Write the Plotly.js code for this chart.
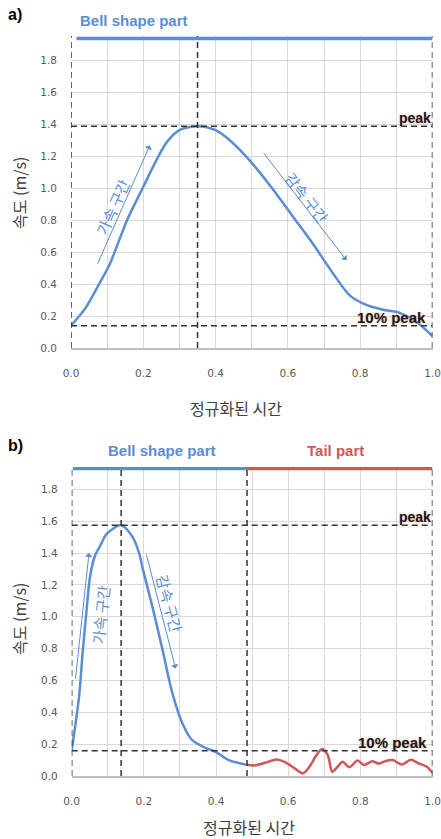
<!DOCTYPE html>
<html>
<head>
<meta charset="utf-8">
<script src="https://cdn.plot.ly/plotly-3.0.1.min.js"></script>
<style>html,body{margin:0;padding:0;background:#fff;}#chart{width:441px;height:839px;}</style>
</head>
<body>
<div id="chart"></div>
<script>
// ---- data (a) ----
const xA = [0, 0.04, 0.08, 0.108, 0.155, 0.2, 0.237, 0.265, 0.30, 0.35, 0.40, 0.44, 0.5, 0.56, 0.615, 0.67, 0.724, 0.771, 0.817, 0.863, 0.909, 0.955, 1.0];
const yA = [0.14, 0.25, 0.41, 0.53, 0.80, 1.01, 1.18, 1.29, 1.365, 1.39, 1.365, 1.30, 1.16, 0.99, 0.82, 0.65, 0.47, 0.33, 0.27, 0.24, 0.22, 0.165, 0.075];
const peakA = [0.35, 1.39];      // [x, y]
const tenA = 0.139;
// ---- data (b) ----
const xB = [0, 0.02, 0.031, 0.042, 0.05, 0.064, 0.08, 0.097, 0.137, 0.169, 0.188, 0.196, 0.224, 0.252, 0.279, 0.307, 0.334, 0.372, 0.40, 0.435, 0.486];
const yB = [0.16, 0.49, 0.79, 1.06, 1.24, 1.38, 1.45, 1.52, 1.575, 1.5, 1.39, 1.31, 1.06, 0.79, 0.52, 0.33, 0.225, 0.175, 0.15, 0.10, 0.07];
const xT = [0.486, 0.508, 0.536, 0.568, 0.595, 0.618, 0.641, 0.659, 0.678, 0.694, 0.71, 0.722, 0.737, 0.751, 0.770, 0.792, 0.81, 0.833, 0.852, 0.87, 0.89, 0.915, 0.94, 0.962, 0.984, 1.0];
const yT = [0.07, 0.067, 0.083, 0.104, 0.083, 0.048, 0.017, 0.058, 0.13, 0.169, 0.13, 0.027, 0.058, 0.09, 0.055, 0.098, 0.069, 0.092, 0.078, 0.094, 0.1, 0.072, 0.102, 0.079, 0.058, 0.02];
const peakB = [0.137, 1.575];
const tenB = 0.158;
const tailStart = 0.486;
// arrows [tailX, tailY, headX, headY]
const accA = [0.072, 0.52, 0.218, 1.27];
const decA = [0.53, 1.23, 0.762, 0.55];
const accB = [0.01, 0.60, 0.048, 1.40];
const decB = [0.206, 1.40, 0.288, 0.675];
const xTicks = [0, 0.2, 0.4, 0.6, 0.8, 1.0];
const yTicks = [0, 0.2, 0.4, 0.6, 0.8, 1.0, 1.2, 1.4, 1.6, 1.8];

const BLUE = '#5b8dd3', RED = '#d05757', DASH = '#333333', GRID = '#d9d9d9';
const W = 441, H = 839;
const px = v => v / W, py = v => 1 - v / H;

const traces = [
  {x: xA, y: yA, xaxis: 'x', yaxis: 'y', mode: 'lines', line: {color: BLUE, width: 2.5, shape: 'spline', smoothing: 0.8}, hoverinfo: 'skip'},
  {x: xB, y: yB, xaxis: 'x2', yaxis: 'y2', mode: 'lines', line: {color: BLUE, width: 2.5, shape: 'spline', smoothing: 0.8}, hoverinfo: 'skip'},
  {x: xT, y: yT, xaxis: 'x2', yaxis: 'y2', mode: 'lines', line: {color: RED, width: 2.5, shape: 'spline', smoothing: 0.8}, hoverinfo: 'skip'}
];

const dashLine = {color: DASH, width: 1.5, dash: '6px,4px'};
function vline(xr, yr, x, ytop) { return {type: 'line', xref: xr, yref: yr, x0: x, x1: x, y0: 0, y1: ytop, line: dashLine, layer: 'above'}; }
function hline(xr, yr, y) { return {type: 'line', xref: xr, yref: yr, x0: 0, x1: 1, y0: y, y1: y, line: dashLine, layer: 'above'}; }

const topA = 1.955, topB = 1.94;
const shapes = [
  vline('x', 'y', 0, topA), vline('x', 'y', peakA[0], topA), vline('x', 'y', 1, topA),
  hline('x', 'y', peakA[1]), hline('x', 'y', tenA),
  {type: 'line', xref: 'x', yref: 'y', x0: 0.015, x1: 1, y0: 1.94, y1: 1.94, line: {color: BLUE, width: 3.5}},
  vline('x2', 'y2', 0, topB), vline('x2', 'y2', peakB[0], topB), vline('x2', 'y2', tailStart, topB), vline('x2', 'y2', 1, topB),
  hline('x2', 'y2', peakB[1]), hline('x2', 'y2', tenB),
  {type: 'line', xref: 'x2', yref: 'y2', x0: 0.003, x1: tailStart, y0: 1.93, y1: 1.93, line: {color: BLUE, width: 3.5}},
  {type: 'line', xref: 'x2', yref: 'y2', x0: tailStart, x1: 1, y0: 1.93, y1: 1.93, line: {color: RED, width: 3.5}}
];

const boldFont = (size, color) => ({family: 'Liberation Sans, Arial, sans-serif', size: size, color: color, weight: 'bold'});
const krFont = (size, color) => ({family: 'Noto Sans CJK KR, sans-serif', size: size, color: color});
const glow = (size) => ({family: 'Liberation Sans, Arial, sans-serif', size: size, color: '#141436', weight: 'bold', shadow: '0px 0px 2px #f0b040'});

function arrow(xr, yr, a) {
  return {xref: xr, yref: yr, axref: xr, ayref: yr, x: a[2], y: a[3], ax: a[0], ay: a[1], text: '', showarrow: true, arrowhead: 1, arrowsize: 1.3, arrowwidth: 1, arrowcolor: BLUE};
}
function pt(text, x, y, font, opts) {
  return Object.assign({xref: 'paper', yref: 'paper', x: px(x), y: py(y), text: text, showarrow: false, font: font, xanchor: 'center', yanchor: 'middle'}, opts || {});
}

const annotations = [
  pt('a)', 15, 15, boldFont(16, '#000')),
  pt('b)', 15, 445, boldFont(16, '#000')),
  pt('Bell shape part', 134, 21, boldFont(15, BLUE)),
  pt('Bell shape part', 162, 450, boldFont(15, BLUE)),
  pt('Tail part', 335, 450, boldFont(15, RED)),
  pt('peak', 433, 118, glow(14), {xanchor: 'right'}),
  pt('10% peak', 428, 317, glow(15), {xanchor: 'right'}),
  pt('peak', 433, 517, glow(14), {xanchor: 'right'}),
  pt('10% peak', 429, 742, glow(15), {xanchor: 'right'}),
  pt('속도 (m/s)', 19, 193, krFont(16, '#404040'), {textangle: -90}),
  pt('속도 (m/s)', 19, 619, krFont(16, '#404040'), {textangle: -90}),
  pt('정규화된 시간', 236, 408, krFont(16, '#404040')),
  pt('정규화된 시간', 249, 827, krFont(16, '#404040')),
  arrow('x', 'y', accA), arrow('x', 'y', decA), arrow('x2', 'y2', accB), arrow('x2', 'y2', decB),
  pt('가속 구간', 112, 207, krFont(15, BLUE), {textangle: -66}),
  pt('감속 구간', 307, 197, krFont(15, BLUE), {textangle: 52}),
  pt('가속 구간', 100, 615, krFont(15, BLUE), {textangle: -84}),
  pt('감속 구간', 170, 603, krFont(15, BLUE), {textangle: 75})
];

const tickFont = {family: 'DejaVu Sans, sans-serif', size: 10.5, color: '#595959'};
function xax(domain, anchor) {
  return {domain: domain, anchor: anchor, range: [0, 1], tickvals: xTicks, ticktext: xTicks.map(v => v.toFixed(1)),
    showgrid: true, gridcolor: GRID, gridwidth: 1, zeroline: false, showline: true, linecolor: '#bfbfbf', linewidth: 1.5,
    minor: {dtick: 0.1, tick0: 0, showgrid: true, gridcolor: GRID, gridwidth: 1}, tickfont: tickFont, ticks: '',
    ticklabelstandoff: 15, ticklabeloverflow: 'allow', fixedrange: true};
}
function yax(domain, anchor, top) {
  return {domain: domain, anchor: anchor, range: [0, top], tickvals: yTicks, ticktext: yTicks.map(v => v.toFixed(1)),
    showgrid: true, gridcolor: GRID, gridwidth: 1, zeroline: false, showline: false, tickfont: tickFont, ticks: '',
    ticklabelstandoff: 13, ticklabeloverflow: 'allow', fixedrange: true};
}

const layout = {
  width: W, height: H, margin: {l: 0, r: 0, t: 0, b: 0}, showlegend: false,
  paper_bgcolor: '#fff', plot_bgcolor: '#fff',
  xaxis: xax([71 / W, 432.5 / W], 'y'),
  yaxis: yax([1 - 348 / H, 1 - 36 / H], 'x', topA),
  xaxis2: xax([71.7 / W, 432.5 / W], 'y2'),
  yaxis2: yax([1 - 776 / H, 1 - 467 / H], 'x2', topB),
  shapes: shapes, annotations: annotations
};

Plotly.newPlot('chart', traces, layout, {displayModeBar: false, staticPlot: true});
</script>
</body>
</html>
